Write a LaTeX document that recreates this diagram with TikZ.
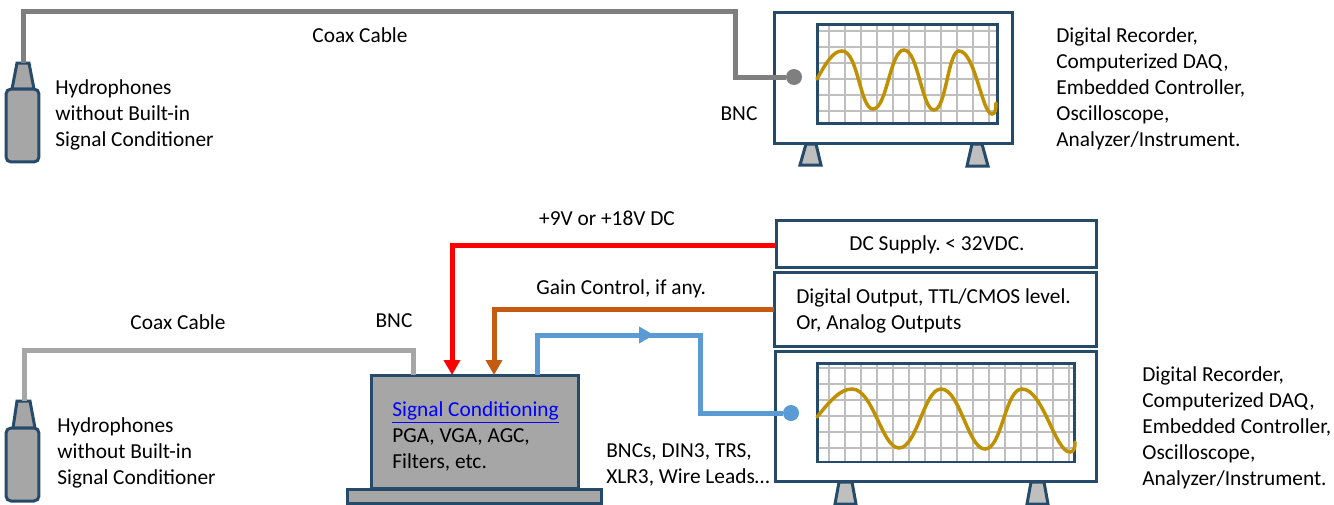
\documentclass[tikz,border=0pt]{standalone}
\usepackage{fontspec}
\setmainfont{Carlito}
\usetikzlibrary{arrows.meta}
\definecolor{edgeblue}{HTML}{264A69}
\definecolor{bodygray}{HTML}{A6A6A6}
\definecolor{coaxdark}{HTML}{7F7F7F}
\definecolor{gridgray}{HTML}{BFBFBF}
\definecolor{traceyellow}{HTML}{BF9000}
\definecolor{gainorange}{HTML}{C55A11}
\definecolor{sigblue}{HTML}{5B9BD5}
\tikzset{>={Triangle[length=.3cm,width=.32cm]}}
\tikzset{
  box/.style={draw=edgeblue, line width=.06cm, inner sep=0pt, outer sep=0pt},
  txt/.style={anchor=west, align=left, inner sep=0pt, font=\fontsize{12.15}{14.8}\selectfont\frenchspacing},
  wire/.style={line width=.1cm},
  gridline/.style={gridgray, line width=.05cm},
  trace/.style={traceyellow, line width=.07cm, line cap=round},
  dot/.style={circle, minimum size=.32cm, inner sep=0pt, outer sep=0pt}
}

\begin{document}
\begin{tikzpicture}[x=.02cm, y=-.02cm]
      \useasboundingbox (0, 0) rectangle (1334, 504);
      % upper hydrophone
      \draw[box, fill=bodygray] (17, 63) -- (29, 63) -- (34, 89) -- (12, 89) -- cycle;
      \node[box, fill=bodygray, rounded corners=.1cm, minimum width=.66cm, minimum height=1.46cm] (bodyA) at (22.5, 125.5) {};
      \coordinate (capA) at (23, 63);
      \coordinate (bendA) at (735, 11);
      \node[txt] (hydroA) at (55, 115) {Hydrophones\\without Built-in\\Signal Conditioner};
      % upper instrument
      \node[box, minimum width=4.78cm, minimum height=2.64cm] (monA) at (893.5, 78) {};
      \foreach \x in {829, 845, ..., 989}
        \draw[gridline] (\x, 24) -- (\x, 124);
      \foreach \y in {31, 47, ..., 111}
        \draw[gridline] (817, \y) -- (998, \y);
      \node[box, minimum width=3.62cm, minimum height=2cm] (screenA) at (907.5, 74) {};
      \draw[trace] (817, 79) .. controls (826, 63) and (833, 51) .. (842, 51) .. controls (858, 51) and (860, 109) .. (873, 109) .. controls (887, 109) and (890, 50) .. (904, 50) .. controls (918, 50) and (922, 110) .. (934, 110) .. controls (946, 110) and (948, 51) .. (959, 51) .. controls (975, 51) and (982, 114) .. (992, 114) .. controls (995, 114) and (996, 110) .. (996, 103);
      \draw[box, fill=gridgray] (806, 144) -- (816, 144) -- (821, 165) -- (800, 165) -- cycle;
      \draw[box, fill=gridgray] (972, 144) -- (982, 144) -- (988, 166) -- (967, 166) -- cycle;
      \node[dot, fill=coaxdark] (dotA) at (794, 77) {};
      % upper cable
      \draw[wire, coaxdark] (capA) |- (bendA) |- (dotA);
      \node[txt, anchor=center] (coaxA) at (360, 35) {Coax Cable};
      \node[txt, anchor=center] (bncA) at (739, 114) {BNC};
      \node[txt] (recA) at (1056, 88.5) {Digital Recorder,\\Computerized DAQ,\\Embedded Controller,\\Oscilloscope,\\Analyzer/Instrument.};
      % lower hydrophone
      \draw[box, fill=bodygray] (17, 401) -- (30, 401) -- (35, 428) -- (13, 428) -- cycle;
      \node[box, fill=bodygray, rounded corners=.1cm, minimum width=.66cm, minimum height=1.46cm] (bodyB) at (22.5, 464.5) {};
      \coordinate (capB) at (24, 401);
      \coordinate (inBnc) at (413, 375);
      \coordinate (bendB) at (413, 350);
      \node[txt] (hydroB) at (57, 453) {Hydrophones\\without Built-in\\Signal Conditioner};
      % conditioner
      \node[box, fill=bodygray, minimum width=4.16cm, minimum height=2.28cm] (condBox) at (475, 432) {};
      \node[box, fill=bodygray, minimum width=5.1cm, minimum height=.28cm] (condBase) at (474.5, 496) {};
      \node[txt] (condText) at (392, 436) {\textcolor{blue}{\underline{Signal Conditioning}}\\PGA, VGA, AGC,\\Filters, etc.};
      % lower boxes
      \node[box, minimum width=6.42cm, minimum height=.94cm] (dcBox) at (936.5, 243.5) {};
      \node[txt, anchor=center] (dcText) at (937, 245) {DC Supply. < 32VDC.};
      \node[box, minimum width=6.46cm, minimum height=1.48cm] (digBox) at (935.5, 309) {};
      \node[txt] (digText) at (796, 311) {Digital Output, TTL/CMOS level.\\Or, Analog Outputs};
      % lower instrument
      \node[box, minimum width=6.44cm, minimum height=2.62cm] (monB) at (936, 416.5) {};
      \foreach \x in {829, 845, ..., 1069}
        \draw[gridline] (\x, 363) -- (\x, 462);
      \foreach \y in {368, 384, ..., 448}
        \draw[gridline] (817, \y) -- (1075, \y);
      \node[box, minimum width=5.16cm, minimum height=1.98cm] (screenB) at (946, 412.5) {};
      \draw[trace] (817, 417) .. controls (830, 401) and (840, 389) .. (852, 389) .. controls (873, 389) and (882, 448) .. (899, 448) .. controls (917, 448) and (924, 389) .. (941, 389) .. controls (960, 389) and (968, 449) .. (985, 449) .. controls (1002, 449) and (1005, 389) .. (1022, 389) .. controls (1043, 389) and (1055, 452) .. (1070, 452) .. controls (1074, 452) and (1075, 448) .. (1075, 442);
      \draw[box, fill=gridgray] (839, 482) -- (852, 482) -- (856, 504) -- (835, 504) -- cycle;
      \draw[box, fill=gridgray] (1031, 482) -- (1044, 482) -- (1048, 504) -- (1027, 504) -- cycle;
      \node[dot, fill=sigblue] (dotB) at (791, 413) {};
      % lower wires
      \coordinate (outRed) at (776, 245);
      \coordinate (inRed) at (452, 375);
      \coordinate (inGain) at (494, 375);
      \coordinate (outSig) at (537, 375);
      \coordinate (bendSig) at (537, 335);
      \coordinate (midSig) at (654, 335);
      \coordinate (dropSig) at (700, 335);
      \draw[wire, bodygray] (capB) |- (bendB) -- (inBnc);
      \draw[wire, red, ->] (outRed) -| (inRed);
      \draw[wire, gainorange, ->] (digBox.west) -| (inGain);
      \draw[wire, sigblue] (outSig) -- (bendSig) -- (dropSig) |- (dotB);
      \draw[wire, sigblue, ->] (bendSig) -- (midSig);
      % lower labels
      \node[txt, anchor=center] (coaxB) at (178, 322) {Coax Cable};
      \node[txt, anchor=center] (bncB) at (394, 321) {BNC};
      \node[txt, anchor=center] (supply) at (607, 218) {+9V or +18V DC};
      \node[txt] (gain) at (536, 289) {Gain Control, if any.};
      \node[txt] (conn) at (606, 465) {BNCs, DIN3, TRS,\\XLR3, Wire Leads\ldots};
      \node[txt] (recB) at (1142, 427.5) {Digital Recorder,\\Computerized DAQ,\\Embedded Controller,\\Oscilloscope,\\Analyzer/Instrument.};
    \end{tikzpicture}
\end{document}
